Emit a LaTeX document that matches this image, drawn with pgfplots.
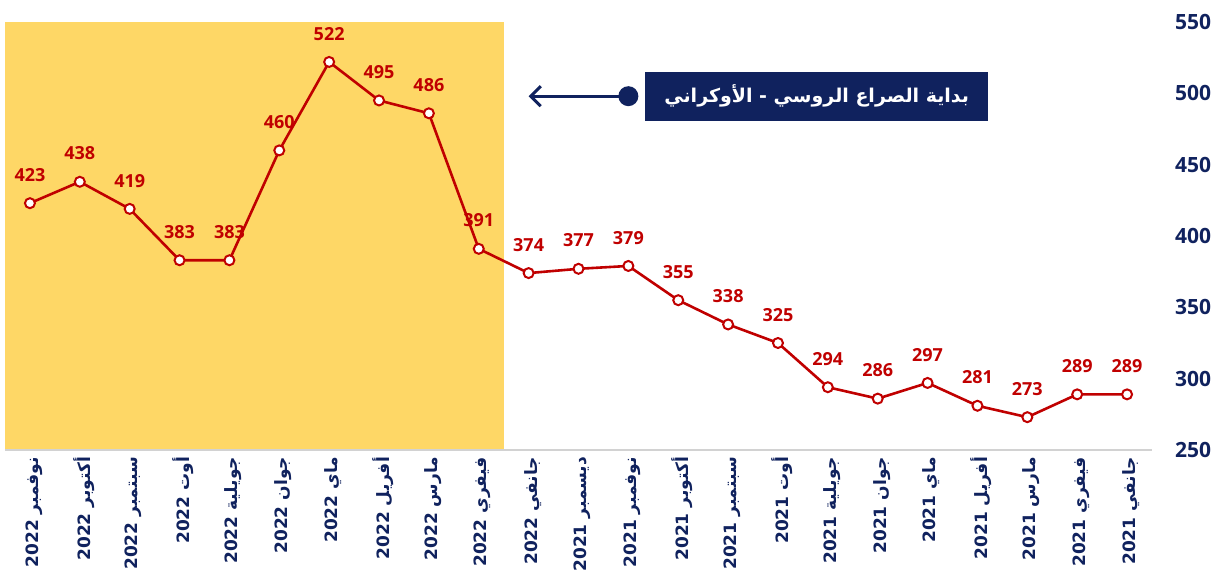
\documentclass[border=0pt]{standalone}
\usepackage{pgfplots}
\pgfplotsset{compat=1.18}
\usetikzlibrary{arrows.meta}
\usepackage{fontspec}
\setmainfont{Open Sans}
\newfontfamily\arabicfont[Script=Arabic]{DejaVu Sans}
\TeXXeTstate=1
\definecolor{myred}{HTML}{C00000}
\definecolor{myyellow}{HTML}{FED766}
\definecolor{navy}{HTML}{10225E}
\begin{document}
\begin{tikzpicture}
\useasboundingbox (-2.5pt,-63pt) rectangle (608.5pt,225pt);
\begin{axis}[
  at={(0,0)}, anchor=south west,
  scale only axis, width=573.5pt, height=214pt,
  xmin=-0.5, xmax=22.5, ymin=250, ymax=550,
  axis line style={draw=none},
  tick style={draw=none},
  xtick={0,...,22},
  xticklabels={{\beginR نوفمبر 2022\endR},{\beginR أكتوبر 2022\endR},{\beginR سبتمبر 2022\endR},{\beginR أوت 2022\endR},{\beginR جويلية 2022\endR},{\beginR جوان 2022\endR},{\beginR ماي 2022\endR},{\beginR أفريل 2022\endR},{\beginR مارس 2022\endR},{\beginR فيفري 2022\endR},{\beginR جانفي 2022\endR},{\beginR ديسمبر 2021\endR},{\beginR نوفمبر 2021\endR},{\beginR أكتوبر 2021\endR},{\beginR سبتمبر 2021\endR},{\beginR أوت 2021\endR},{\beginR جويلية 2021\endR},{\beginR جوان 2021\endR},{\beginR ماي 2021\endR},{\beginR أفريل 2021\endR},{\beginR مارس 2021\endR},{\beginR فيفري 2021\endR},{\beginR جانفي 2021\endR}},
  xticklabel style={rotate=90, anchor=east, yshift=-2pt, font=\arabicfont\bfseries\fontsize{8.5}{10}\selectfont, text=navy},
  ytick={250,300,...,550},
  yticklabel pos=right,
  yticklabel style={font=\bfseries\fontsize{10.5}{12}\selectfont, text=navy, anchor=west, xshift=8pt},
  /pgf/number format/assume math mode=true,
  clip=false,
]
\fill[myyellow] (axis cs:-0.5,250) rectangle (axis cs:9.5,550);
\draw[gray!35, line width=1pt] (axis cs:-0.5,250) -- (axis cs:22.5,250);
\addplot[myred, line width=1.3pt, mark=*, mark size=2.5pt,
  mark options={fill=white, draw=myred, line width=1pt},
  nodes near coords,
  nodes near coords style={font=\bfseries\fontsize{9}{10}\selectfont, text=myred, anchor=south, yshift=7pt}]
  coordinates {
  (0,423) (1,438) (2,419) (3,383) (4,383) (5,460) (6,522) (7,495) (8,486) (9,391)
  (10,374) (11,377) (12,379) (13,355) (14,338) (15,325) (16,294) (17,286) (18,297)
  (19,281) (20,273) (21,289) (22,289)};
\draw[navy, line width=1.5pt, -{Straight Barb[length=5pt,width=10pt]}] (axis cs:12,498) -- (axis cs:10,498);
\fill[navy] (axis cs:12,498) circle (5pt);
\node[fill=navy, text=white, font=\arabicfont\bfseries\fontsize{9.5}{12}\selectfont, minimum width=171.5pt, minimum height=24.5pt, anchor=west, inner sep=0pt] at (axis cs:12.33,498) {\beginR بداية الصراع الروسي - الأوكراني\endR};
\end{axis}
\end{tikzpicture}
\end{document}
